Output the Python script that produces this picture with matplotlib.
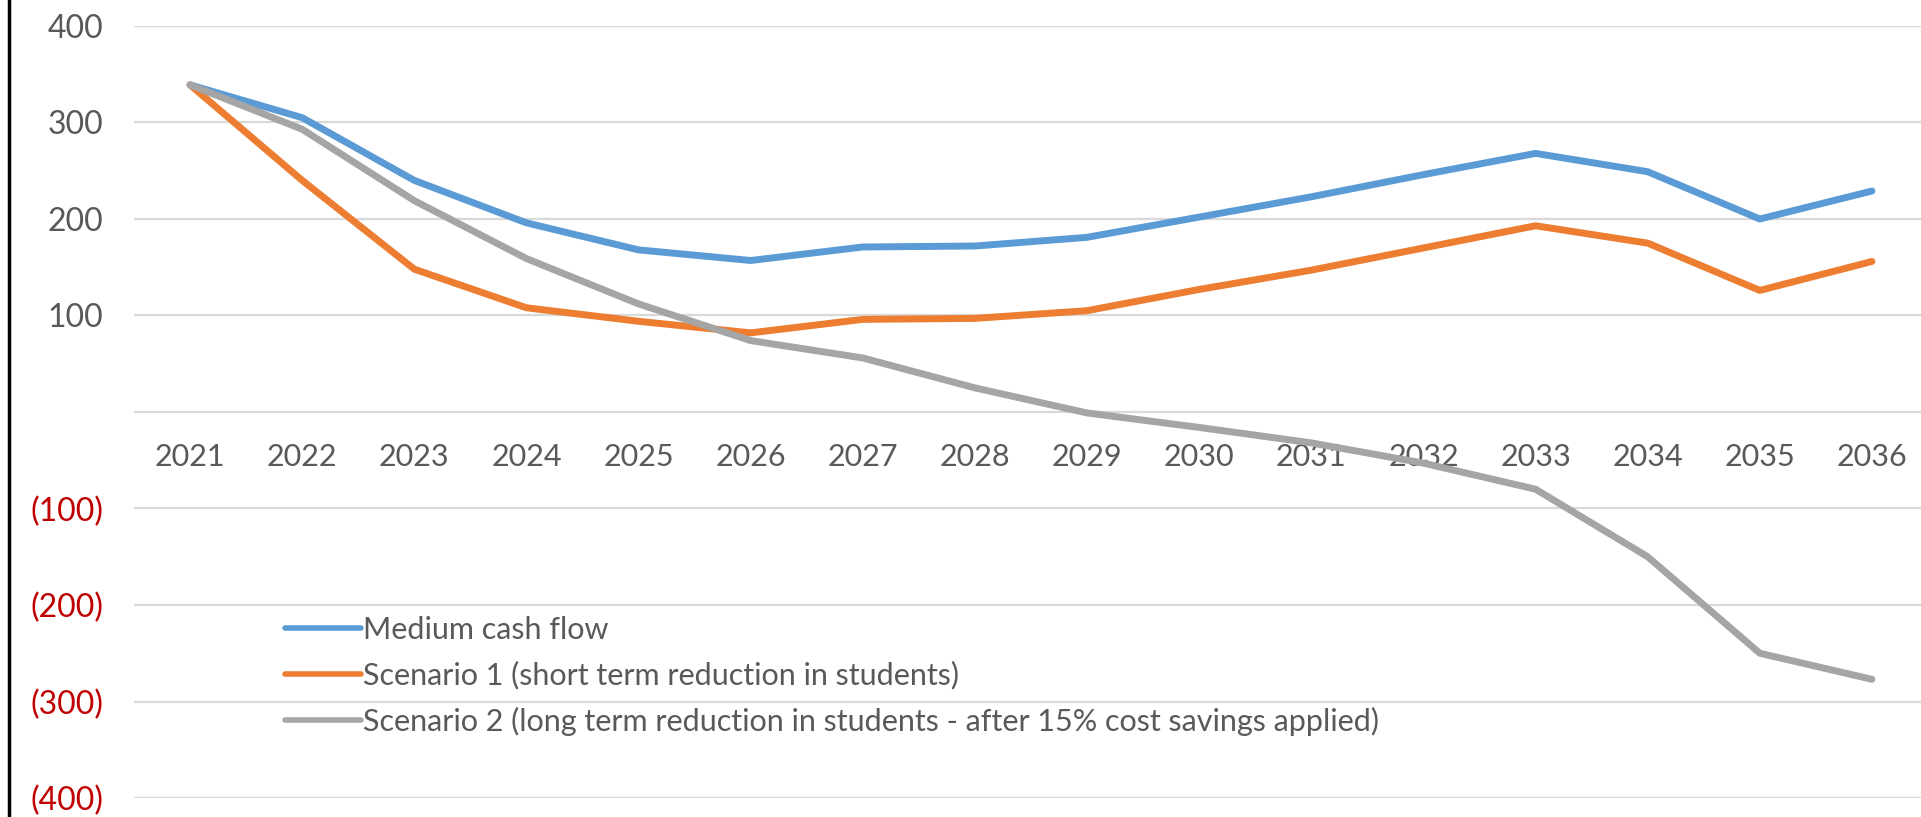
"""Cash flow scenarios 2021-2036, Excel-style line chart."""

import matplotlib

matplotlib.use("Agg")
import matplotlib.pyplot as plt
from matplotlib.lines import Line2D

plt.rcParams["font.family"] = ["Lato", "DejaVu Sans"]

years = [str(y) for y in range(2021, 2037)]
medium = [339, 305, 240, 196, 168, 157, 171, 172, 181, 202, 223, 246, 268, 249, 200, 229]
scenario1 = [339, 240, 148, 108, 94, 82, 96, 97, 105, 127, 147, 170, 193, 175, 126, 156]
scenario2 = [339, 293, 219, 159, 112, 74, 56, 25, -1, -16, -32, -53, -80, -150, -250, -277]

series_labels = [
    "Medium cash flow",
    "Scenario 1 (short term reduction in students)",
    "Scenario 2 (long term reduction in students - after 15% cost savings applied)",
]
series_colors = ["#5B9BD5", "#ED7D31", "#A5A5A5"]
y_ticks = [400, 300, 200, 100, 0, -100, -200, -300, -400]

W, H = 1921, 817
fig = plt.figure(figsize=(W / 100, H / 100), dpi=100)
left, right = 134 / W, 1928 / W
top, bottom = 1 - 26 / H, 1 - 798 / H
ax = fig.add_axes([left, bottom, right - left, top - bottom])

x = list(range(len(years)))
for values, label, color in zip([medium, scenario1, scenario2], series_labels, series_colors):
    ax.plot(x, values, color=color, lw=5, label=label, zorder=3,
            solid_capstyle="round", solid_joinstyle="round")

ax.set_xlim(-0.5, len(years) - 0.5)
ax.set_ylim(-400, 400)

# gridlines
for yv in y_ticks:
    ax.axhline(yv, color="#D9D9D9", lw=1.6, zorder=1)

# y tick labels: blank zero, negatives in red brackets
ytick_text = ["" if v == 0 else (f"({abs(v)})" if v < 0 else f"{v}") for v in y_ticks]
ax.set_yticks(y_ticks, ytick_text)
for lab, v in zip(ax.get_yticklabels(), y_ticks):
    lab.set_color("#C00000" if v < 0 else "#595959")
ax.tick_params(axis="y", length=0, pad=22, labelsize=23)

# category labels sit just under the zero line
ax.spines["bottom"].set_position(("data", 0))
ax.set_xticks(x, years)
ax.tick_params(axis="x", length=0, pad=22, labelsize=22, labelcolor="#595959")

for side in ["top", "right", "left", "bottom"]:
    ax.spines[side].set_visible(False)

leg = ax.legend(
    loc="center left",
    bbox_to_anchor=(285 / W, 1 - 676 / H),
    bbox_transform=fig.transFigure,
    frameon=False,
    fontsize=22,
    handlelength=2.5,
    handletextpad=0.05,
    labelspacing=0.56,
    borderpad=0,
    borderaxespad=0,
    labelcolor="#595959",
)
for h in leg.get_lines():
    h.set_linewidth(4)

# black frame edge on the left
fig.add_artist(Line2D([9 / W, 9 / W], [0, 1], color="black", lw=2.5, transform=fig.transFigure))

fig.savefig("out.png", dpi=100, facecolor="white")
